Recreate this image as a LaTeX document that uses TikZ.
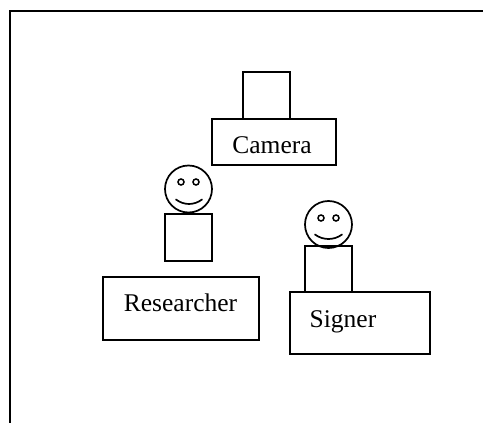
\documentclass[tikz,border=0pt]{standalone}
\usepackage{fontspec}
\setmainfont{Liberation Serif}
\tikzset{
  box/.style={draw,line width=1.7pt,inner sep=0pt},
  label/.style={anchor=base,font=\fontsize{25.5}{28}\selectfont},
  head/.style={draw,circle,line width=1.7pt,minimum size=47pt,inner sep=0pt},
  eye/.style={draw,circle,line width=1.5pt,minimum size=6pt,inner sep=0pt},
  smile/.style={line width=1.7pt,line cap=round}
}
\begin{document}
\begin{tikzpicture}[x=1pt,y=-1pt]
	\useasboundingbox (0,0) rectangle (483,423);
	% outer frame, open on the right
	\draw[line width=2pt] (9.5,423) -- (9.5,10.5) -- (483,10.5);
	% camera
	\node[box,minimum width=47pt,minimum height=47pt] (lens) at (266.5,95.5) {};
	\node[box,minimum width=124pt,minimum height=46pt] (camera) at (274,142) {};
	\node[label] (cameralabel) at (272,153.5) {Camera};
	% researcher
	\node[head] (rhead) at (188.5,189) {};
	\node[eye] (reyea) at (181,182) {};
	\node[eye] (reyeb) at (196,182) {};
	\draw[smile] (176,199.5) .. controls (184,205.5) and (194,205.5) .. (202,199.5);
	\node[box,minimum width=47pt,minimum height=47pt] (rbody) at (188.5,237.5) {};
	\node[box,minimum width=156pt,minimum height=63pt] (researcher) at (181,308.5) {};
	\node[label] (researcherlabel) at (180.5,311.5) {Researcher};
	% signer
	\node[head] (shead) at (328.5,224.5) {};
	\node[eye] (seyea) at (321,218) {};
	\node[eye] (seyeb) at (336,218) {};
	\draw[smile] (315,234.5) .. controls (323,240.5) and (334,240.5) .. (342,234.5);
	\node[box,minimum width=47pt,minimum height=46pt] (sbody) at (328.5,269) {};
	\node[box,minimum width=140pt,minimum height=62pt] (signer) at (360,323) {};
	\node[label] (signerlabel) at (343,327) {Signer};
\end{tikzpicture}
\end{document}
